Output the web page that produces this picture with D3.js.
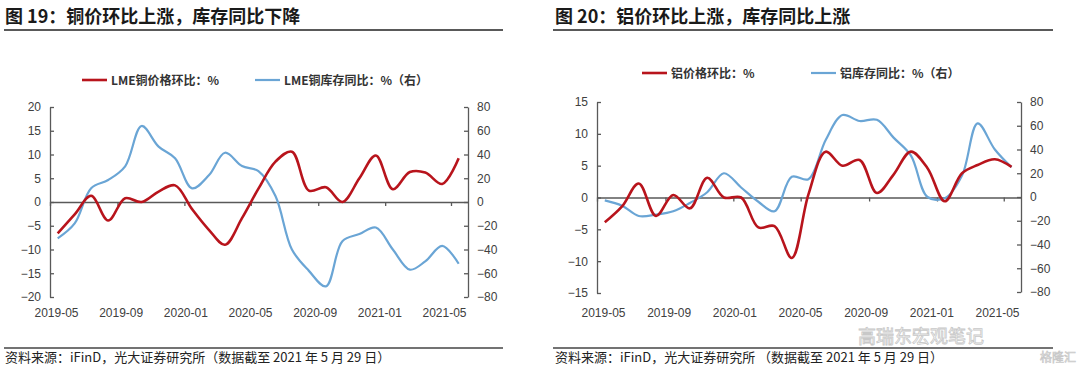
<!DOCTYPE html>
<html lang="zh-cn">
<head>
<meta charset="utf-8">
<title>铜铝价格与库存</title>
<script src="https://d3js.org/d3.v7.min.js"></script>
<style>
  body { margin: 0; background: #fff; }
  svg { display: block; font-family: "Liberation Sans", Arial, sans-serif; }
  .title { font-family: "Noto Sans CJK SC", sans-serif; font-size: 18px; font-weight: bold; fill: #1a1a1a; }
  .source { font-family: "Noto Sans CJK SC", sans-serif; font-size: 13px; fill: #222; }
  .legend text { font-family: "Noto Sans CJK SC", sans-serif; font-size: 12px; font-weight: bold; fill: #333; }
  .axis text { font-size: 12px; fill: #404040; }
  .axis path, .axis line { stroke: #595959; stroke-width: 1.3px; }
  .line { fill: none; }
</style>
</head>
<body>
<svg width="1080" height="369"></svg>
<script>
// 月度数据（2019-05 至 2021-05）
var months = ["2019-05","2019-06","2019-07","2019-08","2019-09","2019-10","2019-11","2019-12",
  "2020-01","2020-02","2020-03","2020-04","2020-05","2020-06","2020-07","2020-08","2020-09",
  "2020-10","2020-11","2020-12","2021-01","2021-02","2021-03","2021-04","2021-05"];

// 图19 铜
var cuPrice = [-6.6, -2.6, 1.3, -3.9, 0.8, 0, 2.2, 3.5, -1.5, -5.9, -9.0, -3.4, 2.8,
  8.5, 10.6, 2.4, 3.1, 0, 5.0, 9.8, 2.7, 6.3, 6.2, 3.8, 9.2];
var cuStock = [-30.6, -18, 11.6, 18.5, 30, 64, 46.6, 36.8, 11.5, 22.7, 41.5, 30.3, 26,
  5, -40, -58, -71, -33, -27, -21.5, -40, -57, -50, -37, -52];

// 图20 铝
var alPrice = [-3.9, -1.4, 2.2, -2.9, 0.4, -1.7, 3.1, 0, 0, -4.7, -4.5, -9.5, 0.5,
  7.2, 5, 5.9, 0.7, 3.6, 7.2, 4.6, -0.6, 3.8, 5.1, 6, 4.8];
var alStock = [-2.8, -7.3, -16, -14.8, -12, -5, 4, 20, 8, -4, -12, 17, 15,
  48, 69, 64, 65, 50, 35, 0, -1, 18, 62, 40, 25];

var xTickLabels = ["2019-05","2019-09","2020-01","2020-05","2020-09","2021-01","2021-05"];
var cuLeftTicks = [20, 15, 10, 5, 0, -5, -10, -15, -20];
var alLeftTicks = [15, 10, 5, 0, -5, -10, -15];
var rightTicks = [80, 60, 40, 20, 0, -20, -40, -60, -80];

var RED = "#b8141c", BLUE = "#6aa5d5";

var svg = d3.select("svg");
svg.append("rect").attr("width", 1080).attr("height", 369).attr("fill", "#fff");

var parseMonth = d3.timeParse("%Y-%m");
var dataDates = months.map(function(m) { return d3.timeDay.offset(parseMonth(m), 14); });

function drawPanel(cfg) {
  var g = svg.append("g");

  // 标题与下划线
  g.append("text").attr("class", "title")
      .attr("x", cfg.titleX).attr("y", 23).text(cfg.title);
  g.append("line")
      .attr("x1", cfg.boxX0).attr("x2", cfg.boxX1).attr("y1", 30).attr("y2", 30)
      .attr("stroke", "#222").attr("stroke-width", 1.5);

  var x = d3.scaleTime()
      .domain([parseMonth("2019-05"), parseMonth("2021-06")])
      .range([cfg.x0, cfg.x1]);
  var yL = d3.scaleLinear().domain([cfg.leftTicks[cfg.leftTicks.length - 1], cfg.leftTicks[0]]).range(cfg.yLRange);
  var yR = d3.scaleLinear().domain([-80, 80]).range(cfg.yRRange);

  // 纵轴
  g.append("g").attr("class", "axis")
      .attr("transform", "translate(" + cfg.x0 + ",0)")
      .call(d3.axisLeft(yL).tickValues(cfg.leftTicks).tickSizeInner(-4).tickSizeOuter(0).tickPadding(9));
  g.append("g").attr("class", "axis")
      .attr("transform", "translate(" + cfg.x1 + ",0)")
      .call(d3.axisRight(yR).tickValues(rightTicks).tickSizeInner(-4).tickSizeOuter(0).tickPadding(9));

  // 零线与刻度
  var tickDates = xTickLabels.map(parseMonth);
  g.append("g").attr("class", "axis")
      .attr("transform", "translate(0," + yL(0) + ")")
      .call(d3.axisBottom(x).tickValues(tickDates).tickSizeInner(4).tickSizeOuter(0).tickFormat(""));

  // 横轴标签（等距排布）
  var xl = d3.scalePoint().domain(xTickLabels).range([cfg.x0 + 6, cfg.x1 - 24]);
  g.append("g").attr("class", "axis")
      .attr("transform", "translate(0,308)")
      .call(d3.axisBottom(xl).tickSize(0).tickPadding(0))
      .call(function(a) { a.select(".domain").remove(); });

  // 线条
  var lineR = d3.line().curve(d3.curveCatmullRom)
      .x(function(d, i) { return x(dataDates[i]); })
      .y(function(d) { return yR(d); });
  var lineL = d3.line().curve(d3.curveCatmullRom)
      .x(function(d, i) { return x(dataDates[i]); })
      .y(function(d) { return yL(d); });

  g.append("path").attr("class", "line")
      .attr("d", lineR(cfg.stock)).attr("stroke", BLUE).attr("stroke-width", 2.2);
  g.append("path").attr("class", "line")
      .attr("d", lineL(cfg.price)).attr("stroke", RED).attr("stroke-width", 2.6);

  // 图例
  var lg = g.append("g").attr("class", "legend");
  var items = [
    {name: cfg.priceName, color: RED, x: cfg.legX[0], w: 2.6},
    {name: cfg.stockName, color: BLUE, x: cfg.legX[1], w: 2.2}
  ];
  items.forEach(function(it) {
    lg.append("line").attr("x1", it.x).attr("x2", it.x + 25)
        .attr("y1", cfg.legY).attr("y2", cfg.legY)
        .attr("stroke", it.color).attr("stroke-width", it.w);
    lg.append("text").attr("x", it.x + 29).attr("y", cfg.legY + 4.5).text(it.name);
  });

  // 资料来源
  g.append("line")
      .attr("x1", cfg.boxX0).attr("x2", cfg.boxX1).attr("y1", 348).attr("y2", 348)
      .attr("stroke", "#444").attr("stroke-width", 1.5);
  g.append("text").attr("class", "source")
      .attr("x", cfg.titleX).attr("y", 362).text(cfg.source);
}

drawPanel({
  title: "图 19：铜价环比上涨，库存同比下降",
  titleX: 5, boxX0: 4, boxX1: 503,
  x0: 50, x1: 468, yLRange: [297, 107], yRRange: [297, 107],
  leftTicks: cuLeftTicks,
  price: cuPrice, stock: cuStock,
  priceName: "LME铜价格环比：%", stockName: "LME铜库存同比：%（右）",
  legX: [82, 255], legY: 80,
  source: "资料来源：iFinD，光大证券研究所（数据截至 2021 年 5 月 29 日）"
});

drawPanel({
  title: "图 20：铝价环比上涨，库存同比上涨",
  titleX: 555, boxX0: 553, boxX1: 1053,
  x0: 597, x1: 1021, yLRange: [293, 102], yRRange: [292, 102],
  leftTicks: alLeftTicks,
  price: alPrice, stock: alStock,
  priceName: "铝价格环比：%", stockName: "铝库存同比：%（右）",
  legX: [642, 811], legY: 73,
  source: "资料来源：iFinD，光大证券研究所 （数据截至 2021 年 5 月 29 日）"
});

// 水印
svg.append("text")
    .attr("x", 858).attr("y", 343)
    .attr("font-family", "Noto Sans CJK SC, sans-serif").attr("font-size", 18)
    .attr("fill", "none").attr("stroke", "#c8c8c8").attr("stroke-width", 0.8)
    .text("高瑞东宏观笔记");
svg.append("text")
    .attr("x", 1040).attr("y", 362)
    .attr("font-family", "Noto Sans CJK SC, sans-serif").attr("font-size", 12)
    .attr("fill", "none").attr("stroke", "#c8c8c8").attr("stroke-width", 0.7)
    .text("格隆汇");
</script>
</body>
</html>
